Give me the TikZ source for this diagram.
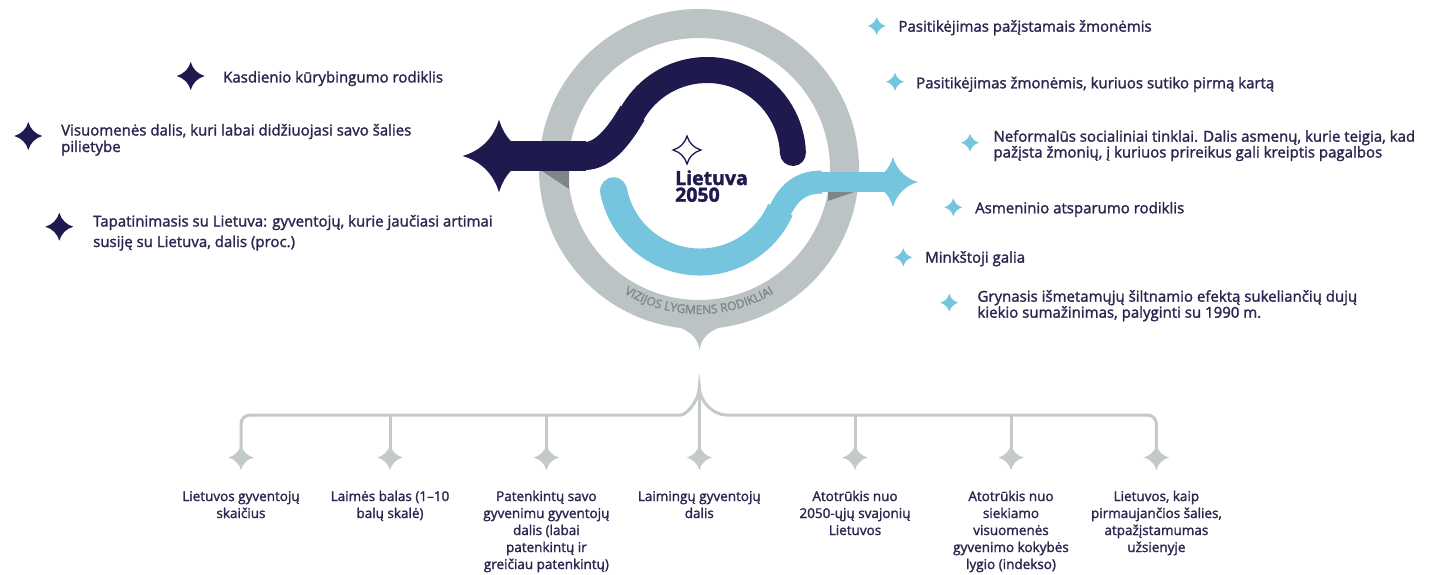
\documentclass[tikz,border=0pt]{standalone}
\usepackage{fontspec}
\setmainfont{Open Sans}[FakeBold=1.6]
\usetikzlibrary{decorations.text}
\definecolor{navy}{HTML}{1F1A4E}
\definecolor{textnavy}{HTML}{29264F}
\definecolor{lblue}{HTML}{75C5DE}
\definecolor{ringgray}{HTML}{BCC3C5}
\definecolor{shadowgray}{HTML}{7D8688}
\definecolor{treegray}{HTML}{C4C9CA}
\definecolor{ringtext}{HTML}{7E878A}
\tikzset{
  pics/spark/.style={code={\path[pic actions] (0,#1) .. controls (0.14*#1,0.5*#1) and (0.5*#1,0.14*#1) .. (#1,0) .. controls (0.5*#1,-0.14*#1) and (0.14*#1,-0.5*#1) .. (0,-#1) .. controls (-0.14*#1,-0.5*#1) and (-0.5*#1,-0.14*#1) .. (-#1,0) .. controls (-0.5*#1,0.14*#1) and (-0.14*#1,0.5*#1) .. cycle;}},
  lbl/.style={anchor=base west, inner sep=0pt, text=textnavy, font=\fontsize{15}{18}\selectfont},
  blbl/.style={anchor=base, inner sep=0pt, text=textnavy, font=\fontsize{13.5}{17}\selectfont},
  ctr/.style={anchor=base west, inner sep=0pt, text=navy, font=\fontsize{19.5}{20}\selectfont\bfseries},
  tree/.style={treegray, line width=3pt},
}
\begin{document}
\begin{tikzpicture}[x=1pt,y=1pt]
\fill[white] (0,0) rectangle (1432,-575);
\useasboundingbox (0,0) rectangle (1432,-575);

% ring
\draw[ringgray, line width=29pt] (699,-169) circle[radius=145.5];
\fill[ringgray] (676,-326) .. controls (690,-331) and (698,-338) .. (699.5,-350) .. controls (701,-338) and (709,-331) .. (723,-326) -- (699.5,-312) -- cycle;
\path[decorate, decoration={text along path, text align=center,
  text={|\color{ringtext}\fontsize{12}{13}\selectfont|VIZIJOS LYGMENS RODIKLIAI}}]
  (699,-169) ++(222:145) arc[start angle=222, end angle=318, radius=145];

% shadows
\fill[shadowgray] (542,-171) -- (569,-171) -- (569,-189) -- cycle;
\fill[shadowgray] (828,-192) -- (854,-192) -- (828,-201) -- cycle;

% dark band
\draw[navy, line width=30pt] (499,-156) -- (586,-156);
\draw[navy, line width=28pt] (585,-156) .. controls (605,-156) and (621.5,-132) .. (632.5,-113);
\draw[navy, line width=26pt, line cap=round] (632.5,-113) arc[start angle=150, end angle=2, radius=86];
\pic[fill=navy] (dstar) at (499,-156) {spark=36.5};

% light band
\fill[lblue] (613.6,-190.8) circle[radius=13.5];
\draw[lblue, line width=27pt] (613.6,-190.8) arc[start angle=191, end angle=336, radius=88];
\draw[lblue, line width=23pt] (779.8,-211.2) .. controls (788.3,-193.1) and (800,-182) .. (822,-182);
\draw[lblue, line width=20pt] (821,-182) -- (893,-182);
\pic[fill=lblue] (lstar) at (893,-182) {spark=25};

% centre
\pic[draw=navy, line width=1.3pt] (cstar) at (687,-150) {spark=14};
\node[ctr] (lt) at (675,-185) {Lietuva};
\node[ctr] (yr) at (675,-201.7) {2050};

% left indicators
\pic[fill=navy] (s1) at (190.7,-76) {spark=14};
\node[lbl] (t1) at (223,-82.5) {Kasdienio kūrybingumo rodiklis};
\pic[fill=navy] (s2) at (28.3,-136) {spark=14};
\node[lbl] (t2a) at (61,-135.5) {Visuomenės dalis, kuri labai didžiuojasi savo šalies};
\node[lbl] (t2b) at (61,-152) {pilietybe};
\pic[fill=navy] (s3) at (59.3,-226.7) {spark=14};
\node[lbl] (t3a) at (93,-226.5) {Tapatinimasis su Lietuva: gyventojų, kurie jaučiasi artimai};
\node[lbl] (t3b) at (93,-247) {susiję su Lietuva, dalis (proc.)};

% right indicators
\pic[fill=lblue] (r1) at (876.7,-26) {spark=9};
\node[lbl] (u1) at (898.3,-31.7) {Pasitikėjimas pažįstamais žmonėmis};
\pic[fill=lblue] (r2) at (895,-81.7) {spark=9};
\node[lbl] (u2) at (916,-88.3) {Pasitikėjimas žmonėmis, kuriuos sutiko pirmą kartą};
\pic[fill=lblue] (r3) at (970,-142.7) {spark=9};
\node[lbl] (u3a) at (993.3,-141.7) {Neformalūs socialiniai tinklai. Dalis asmenų, kurie teigia, kad};
\node[lbl] (u3b) at (993.3,-157.5) {pažįsta žmonių, į kuriuos prireikus gali kreiptis pagalbos};
\pic[fill=lblue] (r4) at (953.3,-207.3) {spark=9};
\node[lbl] (u4) at (975,-213.3) {Asmeninio atsparumo rodiklis};
\pic[fill=lblue] (r5) at (903.3,-257.3) {spark=9};
\node[lbl] (u5) at (925,-262.7) {Minkštoji galia};
\pic[fill=lblue] (r6) at (949.3,-302.7) {spark=9};
\node[lbl] (u6a) at (977.3,-301.7) {Grynasis išmetamųjų šiltnamio efektą sukeliančių dujų};
\node[lbl] (u6b) at (977.3,-317.7) {kiekio sumažinimas, palyginti su 1990 m.};

% tree
\coordinate (peak) at (699.3,-386.7);
\draw[tree] (241,-452) [rounded corners=9pt] |- (672,-415) [sharp corners] .. controls (686,-415) and (699.3,-401) .. (peak) .. controls (699.3,-401) and (712.6,-415) .. (726.6,-415) [rounded corners=9pt] -| (1156.4,-452);
\draw[tree] (peak) -- (699.3,-452);
\foreach \xx in {390,546.4,855,1011} {\draw[tree] (\xx,-415) -- (\xx,-452);}
\foreach \xx/\nm in {241/b1,390/b2,546.4/b3,699.3/b4,855/b5,1011/b6,1156.4/b7} {\pic[fill=treegray] (\nm) at (\xx,-457.5) {spark=12.5};}

\node[blbl] (c1a) at (241,-501) {Lietuvos gyventojų};
\node[blbl] (c1b) at (241,-518) {skaičius};
\node[blbl] (c2a) at (390,-501) {Laimės balas (1–10};
\node[blbl] (c2b) at (390,-518) {balų skalė)};
\node[blbl] (c3a) at (546.4,-501) {Patenkintų savo};
\node[blbl] (c3b) at (546.4,-518) {gyvenimu gyventojų};
\node[blbl] (c3c) at (546.4,-535) {dalis (labai};
\node[blbl] (c3d) at (546.4,-552) {patenkintų ir};
\node[blbl] (c3e) at (546.4,-569) {greičiau patenkintų)};
\node[blbl] (c4a) at (699.3,-501) {Laimingų gyventojų};
\node[blbl] (c4b) at (699.3,-518) {dalis};
\node[blbl] (c5a) at (855,-501) {Atotrūkis nuo};
\node[blbl] (c5b) at (855,-518) {2050-ųjų svajonių};
\node[blbl] (c5c) at (855,-535) {Lietuvos};
\node[blbl] (c6a) at (1011,-501) {Atotrūkis nuo};
\node[blbl] (c6b) at (1011,-518) {siekiamo};
\node[blbl] (c6c) at (1011,-535) {visuomenės};
\node[blbl] (c6d) at (1011,-552) {gyvenimo kokybės};
\node[blbl] (c6e) at (1011,-569) {lygio (indekso)};
\node[blbl] (c7a) at (1156.4,-501) {Lietuvos, kaip};
\node[blbl] (c7b) at (1156.4,-518) {pirmaujančios šalies,};
\node[blbl] (c7c) at (1156.4,-535) {atpažįstamumas};
\node[blbl] (c7d) at (1156.4,-552) {užsienyje};
\end{tikzpicture}
\end{document}
